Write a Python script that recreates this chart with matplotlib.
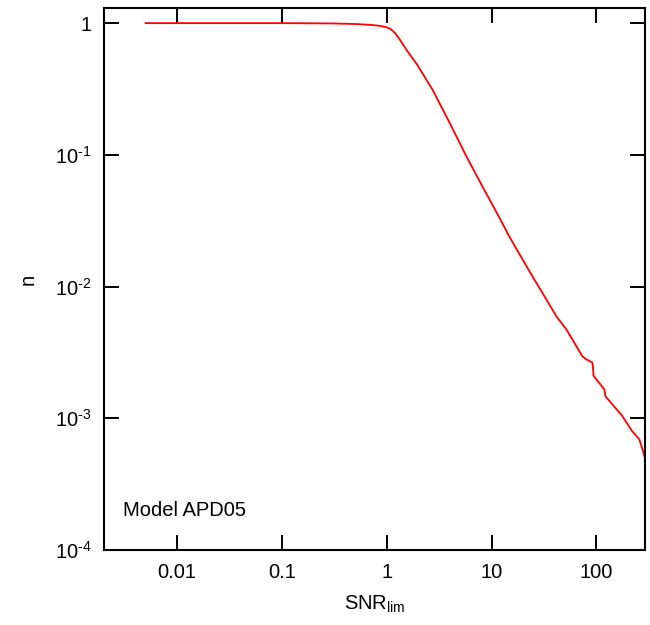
import math

import matplotlib

matplotlib.use("Agg")

import matplotlib.pyplot as plt
from matplotlib.ticker import FixedLocator, FuncFormatter, NullLocator

plt.rcParams["font.family"] = ["Liberation Sans", "DejaVu Sans"]
plt.rcParams["mathtext.fontset"] = "custom"
plt.rcParams["mathtext.rm"] = "Liberation Sans"
plt.rcParams["mathtext.it"] = "Liberation Sans:italic"
plt.rcParams["mathtext.default"] = "regular"

# (SNR_lim, n)
snr_lim = [0.005, 0.1, 0.3, 0.5, 0.7, 0.85, 1.0, 1.1, 1.2, 1.33, 1.6, 1.93, 2.74,
           3.98, 5.78, 8.2, 11.9, 14.8, 24.6, 33.4, 41.6, 51.8, 73.6, 80.4, 91.6,
           92.5, 94.0, 119.0, 122.0, 177.0, 220.0, 257.0, 281.0, 290.0]
n_frac = [1.0, 1.0, 0.995, 0.985, 0.97, 0.955, 0.93, 0.895, 0.84, 0.75, 0.6,
          0.49, 0.311, 0.175, 0.0966, 0.0573, 0.0333, 0.0239, 0.0119, 0.00797,
          0.00593, 0.00472, 0.00295, 0.0028, 0.00265, 0.0025, 0.0021, 0.00166,
          0.00147, 0.00104, 0.000797, 0.000692, 0.000552, 0.0005]

x_ticks = [0.01, 0.1, 1, 10, 100]
x_tick_labels = ["0.01", "0.1", "1", "10", "100"]
y_ticks = [1e-4, 1e-3, 1e-2, 1e-1, 1]


def x_fmt(v, pos):
    i = min(range(len(x_ticks)), key=lambda k: abs(math.log10(x_ticks[k]) - math.log10(v)))
    return x_tick_labels[i]


def y_fmt(v, pos):
    exp = int(round(math.log10(v)))
    if exp == 0:
        return "1"
    return r"$10^{\text{-}%d}$" % abs(exp)


fig = plt.figure(figsize=(6.5, 6.25), dpi=100)
ax = fig.add_axes([0.16, 0.12, 0.832, 0.867])
ax.plot(snr_lim, n_frac, color="#ff0000", lw=1.3)
ax.set_xscale("log")
ax.set_yscale("log")
ax.set_xlim(0.002, 290)
ax.set_ylim(1e-4, 1.3)

ax.xaxis.set_major_locator(FixedLocator(x_ticks))
ax.xaxis.set_major_formatter(FuncFormatter(x_fmt))
ax.xaxis.set_minor_locator(NullLocator())
ax.yaxis.set_major_locator(FixedLocator(y_ticks))
ax.yaxis.set_major_formatter(FuncFormatter(y_fmt))
ax.yaxis.set_minor_locator(NullLocator())
ax.tick_params(which="major", direction="in", length=11, width=1.4,
               top=True, right=True, labelsize=14.5, pad=9, colors="black")
for sp in ax.spines.values():
    sp.set_linewidth(1.5)

ax.set_xlabel(r"SNR$_{\rm lim}$", fontsize=14.5, labelpad=9)
ax.set_ylabel("n", fontsize=14.5, labelpad=12)
ax.text(0.035, 0.055, "Model APD05", transform=ax.transAxes, fontsize=14.5,
        ha="left", va="bottom")

fig.savefig("out.png", dpi=100)
